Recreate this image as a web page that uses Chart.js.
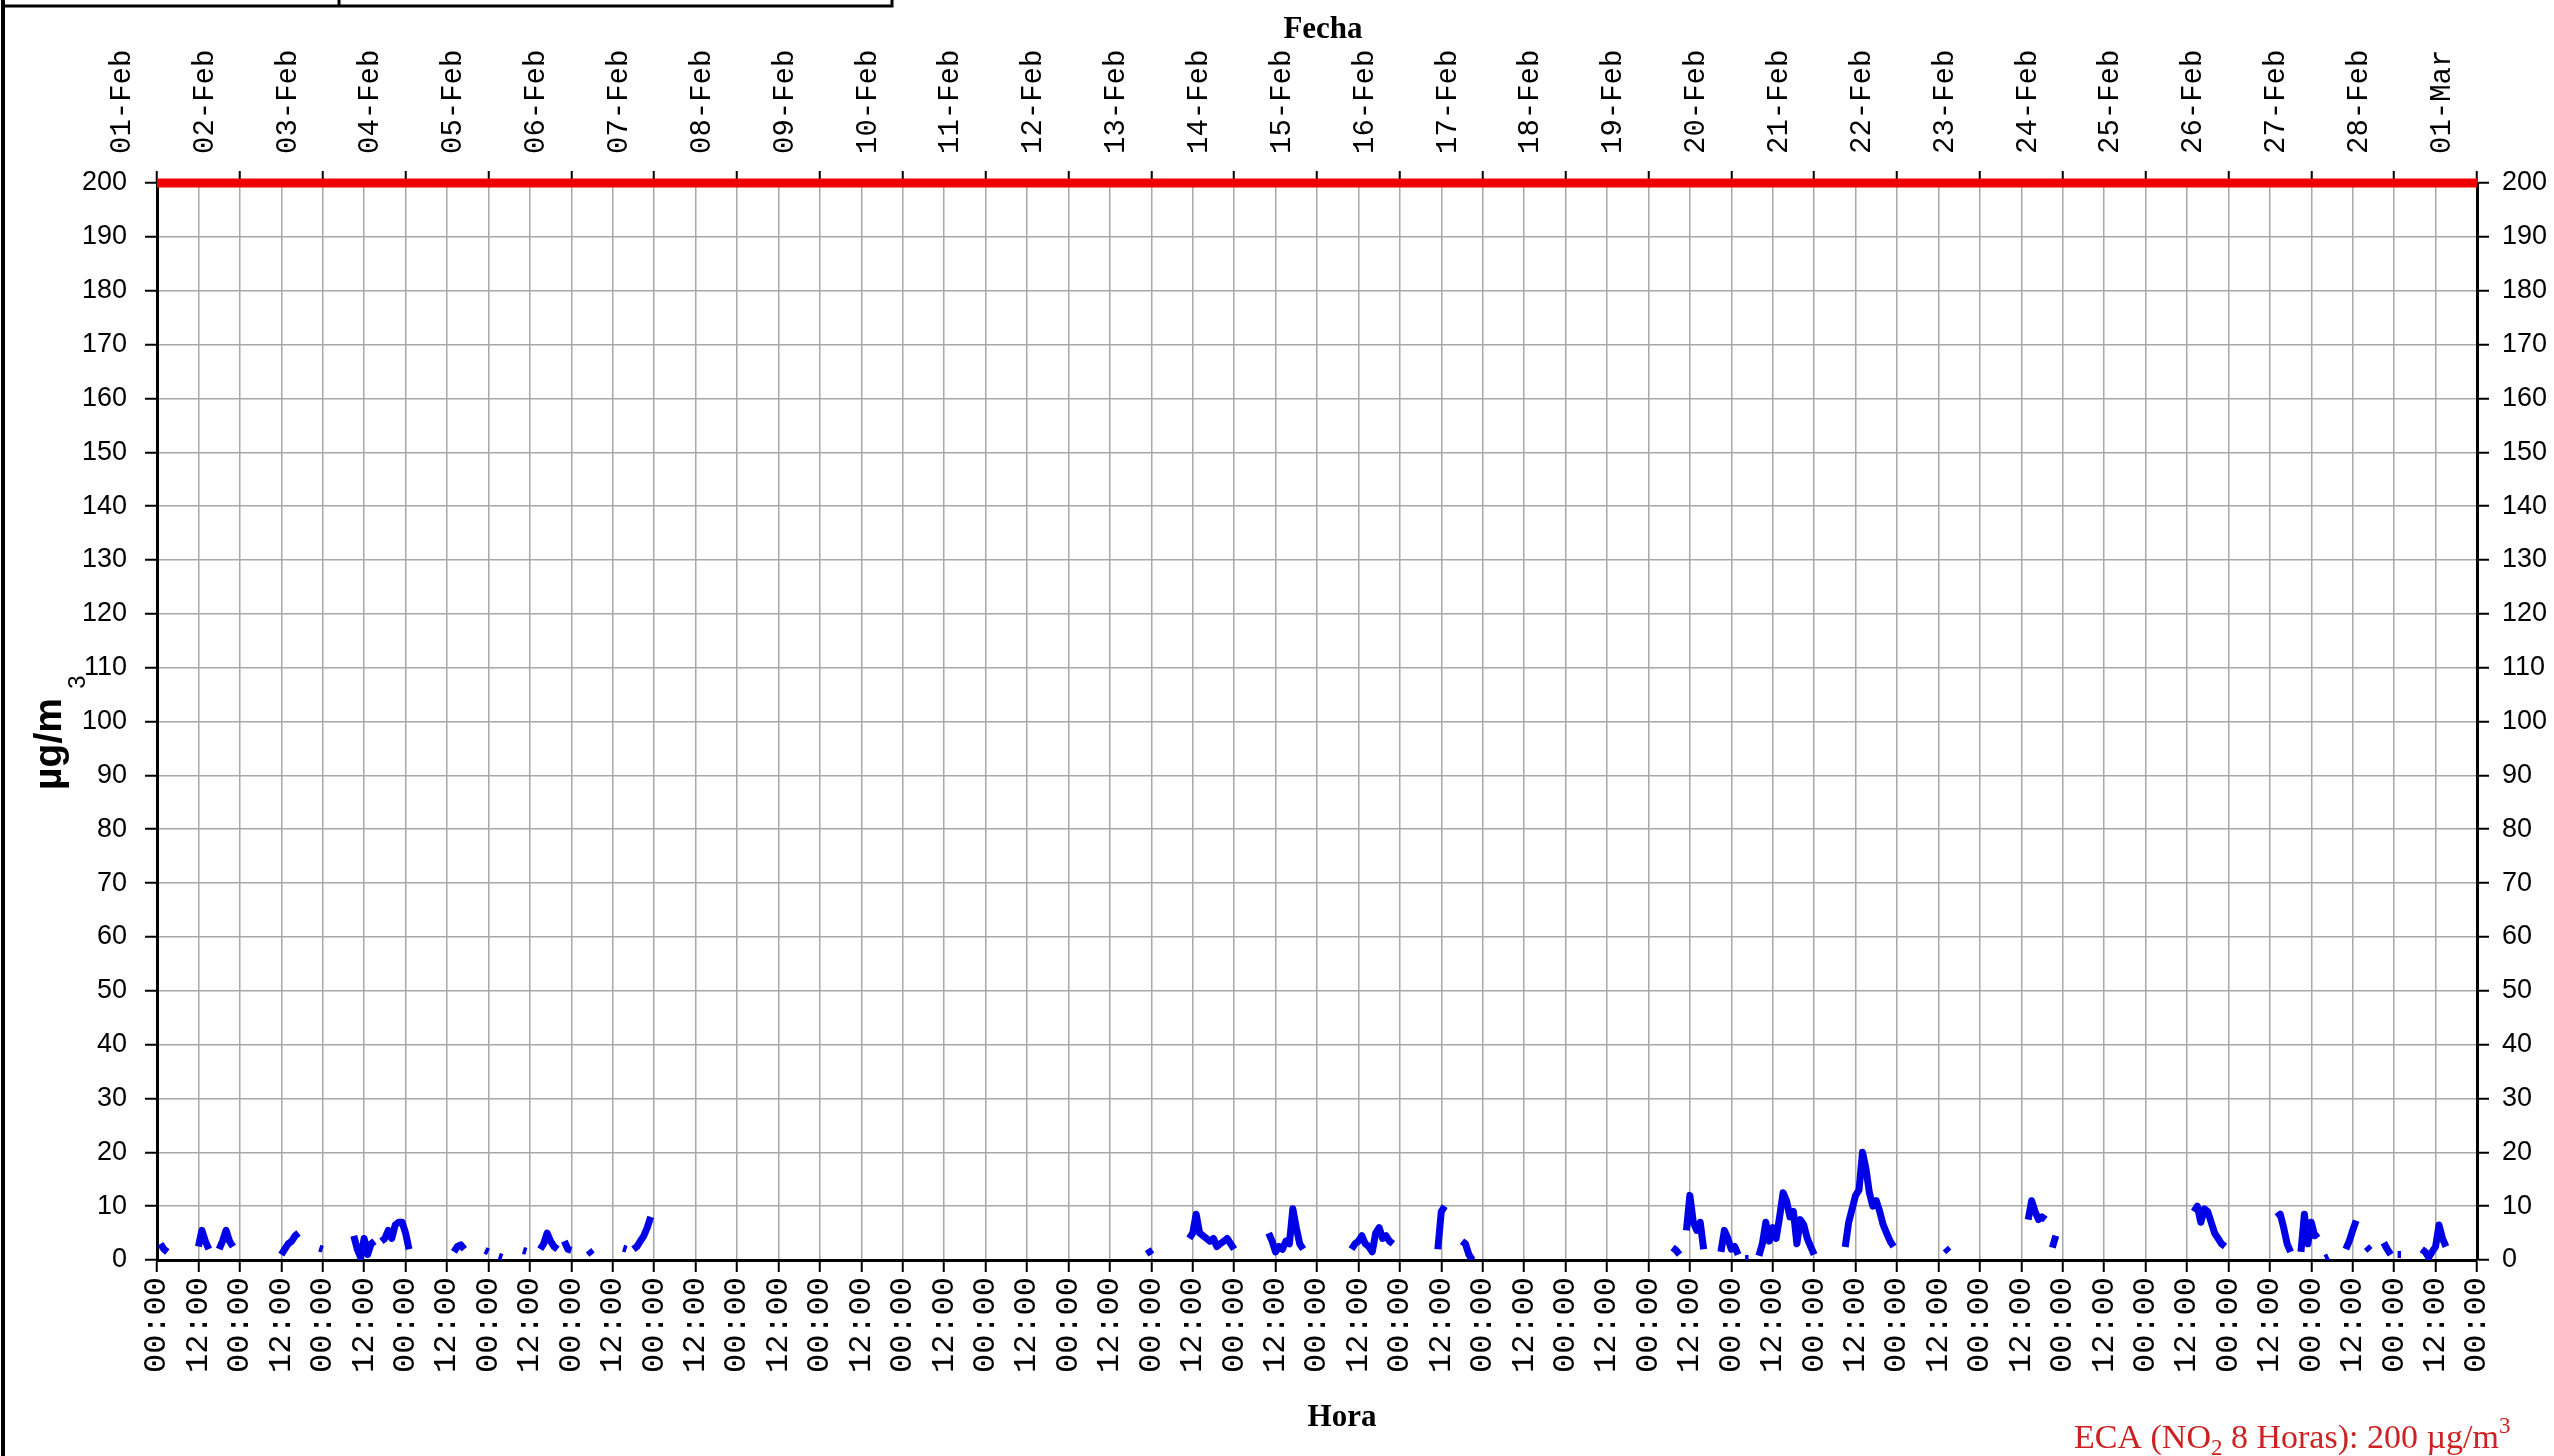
<!DOCTYPE html>
<html>
<head>
<meta charset="utf-8">
<script src="https://cdn.jsdelivr.net/npm/chart.js@4.4.1/dist/chart.umd.min.js"></script>
<style>
  html, body { margin: 0; padding: 0; background: #fff; }
  canvas { display: block; }
</style>
</head>
<body>
<canvas id="no2chart" width="2554" height="1456"></canvas>
<script>
// tick labels
const dayLabels = [
  '01-Feb', '02-Feb', '03-Feb', '04-Feb', '05-Feb', '06-Feb', '07-Feb',
  '08-Feb', '09-Feb', '10-Feb', '11-Feb', '12-Feb', '13-Feb', '14-Feb',
  '15-Feb', '16-Feb', '17-Feb', '18-Feb', '19-Feb', '20-Feb', '21-Feb',
  '22-Feb', '23-Feb', '24-Feb', '25-Feb', '26-Feb', '27-Feb', '28-Feb',
  '01-Mar'
];
const hourLabels = ['00:00', '12:00'];

// limit value (ECA NO2, 8 h)
const ecaLimit = 200;

// NO2 8h values: each run starts at an hour
// counted from 01-Feb 00:00 and holds one value per hour
const segStart = [
  1, 12, 18, 36, 47, 57, 65, 86, 95, 99, 106, 111, 118, 125, 135, 138,
  287, 299, 322, 346, 371, 378,
  439, 443, 453, 460, 464, 489,
  518, 542, 549, 590, 614, 621, 628, 634, 640, 645, 649, 656
];
const segValues = [
  [3, 2, 1.5],
  [2.5, 5.5, 3.5, 2],
  [2, 3.5, 5.5, 3.5, 2.5],
  [1, 2, 3, 3.5, 4.5, 5],
  [2.2, 2],
  [4.5, 2, 0.5, 4, 1, 3, 3.5],
  [3.5, 4, 5.5, 4, 6.5, 7, 7, 5, 2],
  [1.5, 2.5, 2.8, 2],
  [1.8, 1.5],
  [0.7, 0.5],
  [1.8, 1.6],
  [2, 3, 5, 3.5, 2.5, 2],
  [3.5, 2, 1.8],
  [1.8, 1],
  [2.2, 2],
  [2, 2.5, 3.5, 4.5, 6, 8],
  [2, 1],
  [4, 5, 8.5, 5, 4.5, 4, 3.5, 4, 2.5, 3, 3.5, 4, 3, 2],
  [5, 3.5, 1.5, 2.5, 2, 3.5, 3, 9.5, 6, 3, 2],
  [2, 3, 3.5, 4.5, 3, 2.5, 1.5, 5, 6, 4, 4.5, 3.5, 3],
  [2, 9, 10],
  [3.5, 3, 1, 0],
  [2.3, 1.8, 1],
  [5.5, 12, 7, 5.5, 7, 2],
  [1.5, 5.5, 4, 2, 2.5, 1],
  [0.3, 0.3],
  [0.8, 3, 7, 3.5, 6, 4, 8, 12.5, 11, 8, 9, 3, 7.5, 6.5, 4, 2.5, 1],
  [2.4, 7, 9.5, 12, 13, 20, 17, 12.5, 10, 11, 9, 6.5, 5, 3.5, 2.5],
  [2.2, 1.5],
  [7.5, 11, 9, 7.5, 8, 7.5],
  [2.3, 4.5],
  [9, 10, 7, 9.5, 9, 7, 5, 4, 3, 2.5],
  [8, 8.5, 6, 3, 1.5],
  [1.5, 8.5, 3, 7, 4.5, 5],
  [0.3, 0.6],
  [2, 3.5, 5.5, 7.3],
  [2.5, 1.8],
  [3.2, 2, 1],
  [1, 1],
  [2, 1.5, 0.5, 1.5, 2.5, 6.5, 4, 2.5]
];

const totalHours = (dayLabels.length - 1) * 24;

const no2Points = [];
segStart.forEach((h0, i) => {
  segValues[i].forEach((v, k) => no2Points.push({ x: h0 + k, y: v }));
  no2Points.push({ x: h0 + segValues[i].length - 0.5, y: null });
});

const limitPoints = [{ x: 0, y: ecaLimit }, { x: totalHours, y: ecaLimit }];

const monoFamily = "'Liberation Mono', 'Courier New', monospace";
const sansFont = { family: "'Liberation Sans', Arial, sans-serif", size: 27 };

const gridStyle = {
  color: '#a8a8a8',
  lineWidth: 1.5,
  tickColor: '#000',
  tickWidth: 2,
  tickLength: 12
};
const axisBorder = { color: '#000', width: 3 };

// frame, axis titles and the ECA note
const decorations = {
  id: 'decorations',
  afterDraw(chart) {
    const ctx = chart.ctx;
    ctx.save();
    ctx.strokeStyle = '#000';
    ctx.lineWidth = 4;
    ctx.beginPath();
    ctx.moveTo(3, 0);
    ctx.lineTo(3, 1456);
    ctx.stroke();

    ctx.lineWidth = 3;
    ctx.beginPath();
    ctx.moveTo(3, 6);
    ctx.lineTo(892, 6);
    ctx.lineTo(892, 0);
    ctx.moveTo(339, 0);
    ctx.lineTo(339, 6);
    ctx.stroke();

    ctx.fillStyle = '#000';
    ctx.textAlign = 'center';
    ctx.textBaseline = 'middle';
    ctx.font = "bold 31px 'Liberation Serif', 'Times New Roman', serif";
    ctx.fillText('Fecha', 1323, 30);
    ctx.fillText('Hora', 1342, 1418);

    // y title, rotated; the 3 sits right of the m like in the source
    ctx.save();
    ctx.translate(50, 744);
    ctx.rotate(-Math.PI / 2);
    ctx.font = "bold 39px 'Liberation Sans', Arial, sans-serif";
    ctx.fillText('µg/m', 0, 0);
    ctx.font = "24px 'Liberation Sans', Arial, sans-serif";
    ctx.fillText('3', 62, 28);
    ctx.restore();

    // ECA note with sub/superscript
    ctx.fillStyle = '#cc2222';
    ctx.textAlign = 'left';
    ctx.textBaseline = 'alphabetic';
    const big = "34px 'Liberation Serif', 'Times New Roman', serif";
    const small = "23px 'Liberation Serif', 'Times New Roman', serif";
    const parts = [
      ['ECA (NO', big, 0],
      ['2', small, 7],
      [' 8 Horas): 200 µg/m', big, 0],
      ['3', small, -15]
    ];
    let x = 2074;
    parts.forEach(([t, f, dy]) => {
      ctx.font = f;
      ctx.fillText(t, x, 1448 + dy);
      x += ctx.measureText(t).width;
    });
    ctx.restore();
  }
};

new Chart(document.getElementById('no2chart'), {
  type: 'line',
  data: {
    datasets: [
      {
        label: 'ECA',
        data: limitPoints,
        borderColor: '#ee0000',
        borderWidth: 9,
        pointRadius: 0,
        clip: false,
        xAxisID: 'x',
        yAxisID: 'y'
      },
      {
        label: 'NO2',
        data: no2Points,
        borderColor: '#0000e6',
        borderWidth: 7,
        borderJoinStyle: 'round',
        pointRadius: 0,
        spanGaps: false,
        tension: 0,
        xAxisID: 'x',
        yAxisID: 'y'
      }
    ]
  },
  options: {
    responsive: false,
    animation: false,
    layout: { padding: 0 },
    plugins: {
      legend: { display: false },
      title: { display: false },
      tooltip: { enabled: false }
    },
    scales: {
      x: {
        type: 'linear',
        position: 'bottom',
        min: 0,
        max: totalHours,
        ticks: {
          stepSize: 12,
          autoSkip: false,
          minRotation: 90,
          maxRotation: 90,
          padding: 5,
          color: '#000',
          font: { family: monoFamily, size: 32 },
          callback: (v) => hourLabels[(v / 12) % 2]
        },
        grid: gridStyle,
        border: axisBorder,
        afterFit: (s) => { s.height = 196; }
      },
      xTop: {
        type: 'linear',
        position: 'top',
        min: 0,
        max: totalHours,
        ticks: {
          stepSize: 24,
          autoSkip: false,
          minRotation: 90,
          maxRotation: 90,
          padding: 17,
          color: '#000',
          font: { family: monoFamily, size: 29 },
          callback: (v) => dayLabels[v / 24]
        },
        grid: Object.assign({}, gridStyle, { drawOnChartArea: false }),
        border: axisBorder,
        afterFit: (s) => { s.height = 183; }
      },
      y: {
        position: 'left',
        min: 0,
        max: ecaLimit,
        ticks: { stepSize: 10, padding: 18, color: '#000', font: sansFont },
        grid: gridStyle,
        border: axisBorder,
        afterFit: (s) => { s.width = 157; }
      },
      yRight: {
        position: 'right',
        min: 0,
        max: ecaLimit,
        ticks: { stepSize: 10, padding: 13, color: '#000', font: sansFont },
        grid: Object.assign({}, gridStyle, { drawOnChartArea: false }),
        border: axisBorder,
        afterFit: (s) => { s.width = 77; }
      }
    }
  },
  plugins: [decorations]
});
</script>
</body>
</html>
